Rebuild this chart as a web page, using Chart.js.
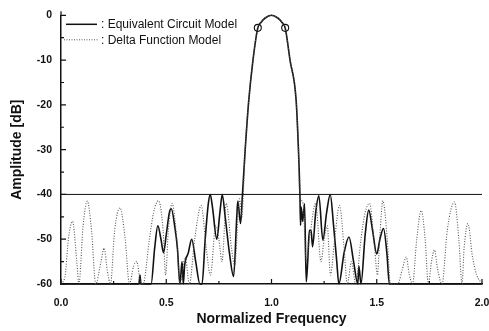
<!DOCTYPE html>
<html>
<head>
<meta charset="utf-8">
<script src="https://cdn.jsdelivr.net/npm/chart.js@4.4.0/dist/chart.umd.min.js"></script>
<style>
  html, body { margin: 0; padding: 0; background: #fff; }
</style>
</head>
<body>
<canvas id="chart" width="489" height="331"></canvas>
<script>
// ===== DATA =====
const circuitX = [0.00, 0.37, 0.375, 0.38, 0.428, 0.445, 0.46, 0.475, 0.487, 0.50, 0.515, 0.524, 0.54, 0.553, 0.565, 0.575, 0.581, 0.587, 0.605, 0.621, 0.64, 0.66, 0.67, 0.685, 0.70, 0.709, 0.72, 0.74, 0.755, 0.766, 0.78, 0.80, 0.82, 0.835, 0.84, 0.853, 0.862, 0.875, 0.892, 0.912, 0.935, 0.95, 0.97, 1.00, 1.03, 1.05, 1.065, 1.088, 1.117, 1.128, 1.135, 1.138, 1.141, 1.148, 1.157, 1.165, 1.172, 1.18, 1.188, 1.195, 1.21, 1.225, 1.244, 1.262, 1.279, 1.295, 1.31, 1.32, 1.345, 1.368, 1.39, 1.41, 1.415, 1.425, 1.445, 1.462, 1.48, 1.50, 1.515, 1.532, 1.548, 1.56, 2.00];
const circuitY = [-60, -60, -58, -60, -60, -52, -47, -50, -53, -49, -44, -43.2, -47, -52, -60, -55, -60, -56, -53, -50, -55, -60, -60, -50, -42, -40, -43, -50, -44, -40, -45, -53, -58.3, -45, -41.5, -46.5, -40, -30, -19, -10, -2.8, -1.6, -0.6, 0, -0.6, -1.6, -2.8, -10, -19, -30, -40, -46.9, -42.8, -46, -42.1, -59.5, -55, -48, -48, -51.7, -44, -40.3, -50.2, -44, -40, -47, -55, -60, -53, -49.5, -55, -60, -56, -60, -49, -43.5, -48, -53.3, -50, -47.6, -53, -60, -60];

const deltaX = [0.00, 0.02, 0.035, 0.055, 0.075, 0.085, 0.105, 0.125, 0.145, 0.165, 0.19, 0.205, 0.22, 0.235, 0.255, 0.28, 0.305, 0.325, 0.345, 0.36, 0.375, 0.39, 0.42, 0.44, 0.463, 0.485, 0.497, 0.51, 0.528, 0.55, 0.565, 0.59, 0.61, 0.635, 0.666, 0.69, 0.71, 0.735, 0.75, 0.765, 0.785, 0.81, 0.825, 0.848, 0.86, 0.866, 0.875, 0.892, 0.912, 0.935, 0.95, 0.97, 1.00, 1.03, 1.05, 1.065, 1.088, 1.117, 1.128, 1.134, 1.15, 1.165, 1.18, 1.21, 1.235, 1.25, 1.265, 1.28, 1.30, 1.323, 1.345, 1.36, 1.38, 1.40, 1.425, 1.445, 1.466, 1.49, 1.503, 1.515, 1.529, 1.55, 1.565, 1.60, 1.62, 1.64, 1.655, 1.67, 1.69, 1.711, 1.73, 1.745, 1.76, 1.774, 1.79, 1.81, 1.835, 1.869, 1.89, 1.905, 1.915, 1.933, 1.955, 1.975, 2.00];
const deltaY = [-60, -58, -50, -46, -55, -60, -47, -41.5, -48, -60, -55, -52, -57, -60, -48, -43, -50, -60, -56, -55, -59, -60, -50, -44, -41.4, -48, -58, -48, -42, -50, -60, -54, -60, -50, -42.5, -52, -58, -47, -50, -55, -42, -52, -56, -41, -45, -40, -30, -19, -10, -2.8, -1.6, -0.6, 0, -0.6, -1.6, -2.8, -10, -19, -30, -40, -42, -55, -50, -42, -55, -50, -47, -58, -50, -42.5, -52, -60, -55, -60, -50, -44, -42, -52, -58, -49, -41.4, -50, -60, -60, -57, -54, -58, -60, -50, -43.6, -50, -60, -55, -52.4, -57, -60, -48, -41.7, -50, -60, -52, -46.5, -54, -58, -60];

const markerX = [0.935, 1.065];
const markerY = [-2.8, -2.8];

const limitX = [0, 2];
const limitY = [-40, -40];

const seriesNames = [': Equivalent Circuit Model', ': Delta Function Model'];
const xTickMajor = [0, 0.5, 1.0, 1.5, 2.0];
const xTickMinor = [0.25, 0.75, 1.25, 1.75];
const yTickMajor = [0, -10, -20, -30, -40, -50, -60];
const yTickMinor = [-5, -15, -25, -35, -45, -55];

const toPoints = (xs, ys) => xs.map((x, i) => ({ x: x, y: ys[i] }));

const FONT = "'Liberation Sans', Arial, sans-serif";

// ===== INWARD TICKS + LEGEND =====
const decorations = {
  id: 'decorations',
  afterDraw(chart) {
    const { ctx, chartArea: a, scales: { x, y } } = chart;
    ctx.save();
    ctx.strokeStyle = '#111';
    ctx.lineWidth = 1.2;
    ctx.beginPath();
    xTickMajor.forEach(v => { const p = x.getPixelForValue(v); ctx.moveTo(p, a.bottom); ctx.lineTo(p, a.bottom - 5); });
    xTickMinor.forEach(v => { const p = x.getPixelForValue(v); ctx.moveTo(p, a.bottom); ctx.lineTo(p, a.bottom - 3); });
    yTickMajor.forEach(v => { const p = y.getPixelForValue(v); ctx.moveTo(a.left, p); ctx.lineTo(a.left + 5, p); });
    yTickMinor.forEach(v => { const p = y.getPixelForValue(v); ctx.moveTo(a.left, p); ctx.lineTo(a.left + 3, p); });
    // axis runs a little past the 0 dB tick
    ctx.moveTo(a.left, a.top); ctx.lineTo(a.left, a.top - 4);
    ctx.stroke();

    // legend
    const lx = a.left + 5, ly1 = a.top + 9, ly2 = a.top + 24.5;
    ctx.lineWidth = 1.5;
    ctx.beginPath(); ctx.moveTo(lx, ly1); ctx.lineTo(lx + 31, ly1); ctx.stroke();
    ctx.strokeStyle = '#555';
    ctx.lineWidth = 1;
    ctx.setLineDash([1, 1.5]);
    ctx.beginPath(); ctx.moveTo(lx - 2, ly2); ctx.lineTo(lx + 33, ly2); ctx.stroke();
    ctx.setLineDash([]);
    ctx.fillStyle = '#111';
    ctx.font = '12px ' + FONT;
    ctx.textBaseline = 'middle';
    ctx.fillText(seriesNames[0], lx + 35, ly1 + 0.5);
    ctx.fillText(seriesNames[1], lx + 35, ly2 + 0.5);
    ctx.restore();
  }
};

new Chart(document.getElementById('chart').getContext('2d'), {
  type: 'line',
  data: {
    datasets: [
      {
        label: 'limit',
        data: toPoints(limitX, limitY),
        borderColor: '#111',
        borderWidth: 1,
        pointRadius: 0,
        clip: false
      },
      {
        label: 'Delta Function Model',
        data: toPoints(deltaX, deltaY),
        borderColor: '#555',
        borderWidth: 1.1,
        borderDash: [1, 1.6],
        pointRadius: 0,
        cubicInterpolationMode: 'monotone',
        clip: false
      },
      {
        label: 'Equivalent Circuit Model',
        data: toPoints(circuitX, circuitY),
        borderColor: '#111',
        borderWidth: 1.6,
        pointRadius: 0,
        cubicInterpolationMode: 'monotone',
        clip: false
      },
      {
        label: 'markers',
        data: toPoints(markerX, markerY),
        showLine: false,
        pointRadius: 3.5,
        pointBackgroundColor: '#fff',
        pointBorderColor: '#111',
        pointBorderWidth: 1.1,
        clip: false
      }
    ]
  },
  options: {
    responsive: false,
    animation: false,
    layout: { padding: { top: 13, right: 7, left: 0, bottom: 0 } },
    plugins: { legend: { display: false }, tooltip: { enabled: false } },
    scales: {
      x: {
        type: 'linear',
        min: 0, max: 2,
        afterFit: s => { s.height = 47; s.paddingLeft = 0; s.paddingRight = 0; },
        ticks: {
          stepSize: 0.5,
          padding: 13,
          color: '#111',
          font: { family: FONT, size: 10.5, weight: 'bold' },
          callback: v => v.toFixed(1)
        },
        grid: { display: true, drawOnChartArea: false, drawTicks: false },
        border: { display: true, color: '#111', width: 1.5 },
        title: {
          display: true,
          text: 'Normalized Frequency',
          color: '#111',
          font: { family: FONT, size: 14, weight: 'bold' },
          padding: { top: 0, bottom: 3 }
        }
      },
      y: {
        min: -60, max: 0,
        afterFit: s => { s.width = 61; },
        ticks: {
          stepSize: 10,
          padding: 9,
          color: '#111',
          font: { family: FONT, size: 10.5, weight: 'bold' },
          callback: v => String(v)
        },
        grid: { display: true, drawOnChartArea: false, drawTicks: false },
        border: { display: true, color: '#111', width: 1.5 },
        title: {
          display: true,
          text: 'Amplitude [dB]',
          color: '#111',
          font: { family: FONT, size: 14, weight: 'bold' },
          padding: { top: 9, bottom: 0 }
        }
      }
    }
  },
  plugins: [decorations]
});
</script>
</body>
</html>
